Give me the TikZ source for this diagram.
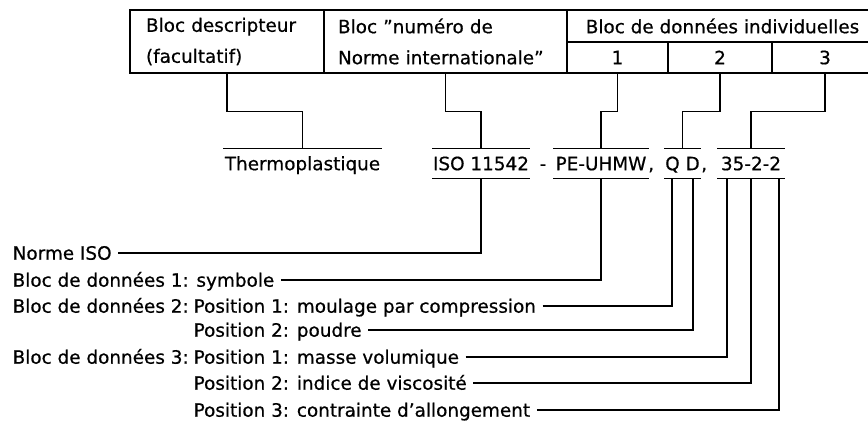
\documentclass[tikz,border=0pt]{standalone}
\usepackage{fontspec}
\setmainfont{DejaVu Sans}[FakeBold=0.6]
\usetikzlibrary{positioning}

\begin{document}
\begin{tikzpicture}[
    x=1pt, y=-1pt,
    line width=1.3pt,
    every node/.style={font=\fontsize{18.4}{31}\selectfont, inner sep=0pt},
    cell/.style={draw, minimum height=31pt},
    code/.style={minimum height=29pt, text height=13.4pt, text depth=0pt},
    lab/.style={anchor=west, inner xsep=6pt, text height=13.4pt, text depth=0pt}
]
    \useasboundingbox (0,0) rectangle (868,423);

    % table head
    \node[cell, minimum width=194pt, minimum height=63pt, text width=162pt, align=left] (desc) at (227,41.5) {Bloc descripteur\\(facultatif)};
    \node[cell, minimum width=243pt, minimum height=63pt, text width=215pt, align=left] (nie) at (445.5,41.5) {Bloc "numéro de\\Norme internationale"};
    \node[cell, minimum width=311pt, minimum height=32pt] (head) at (722.5,26) {Bloc de données individuelles};
    \node[cell, minimum width=101pt] (B1) at (617.5,57.5) {1};
    \node[cell, minimum width=104pt] (B2) at (720,57.5) {2};
    \node[cell, minimum width=106pt] (B3) at (825,57.5) {3};

    % designation
    \node[code, minimum width=157pt] (therm) at (302.5,163.5) {Thermoplastique};
    \node[code, minimum width=88pt] (iso) at (481,163.5) {ISO 11542};
    \node[code] (dash) at (543,163.5) {-};
    \node[code, minimum width=94pt] (pe) at (601,163.5) {PE-UHMW};
    \node[code, right=-1pt of pe] (cm1) {,};
    \node[code, minimum width=35pt] (qd) at (682.5,163.5) {Q D};
    \node[code, right=0pt of qd] (cm2) {,};
    \node[code, minimum width=66pt] (dens) at (751,163.5) {35-2-2};

    \foreach \x in {iso, pe, qd, dens}
        \draw (\x.north west) -- (\x.north east) (\x.south west) -- (\x.south east);
    \draw (therm.north west) -- (therm.north east);

    \draw (desc.south) -- ++(0,38) -| (therm.north);
    \draw (nie.south) -- ++(0,38) -| (iso.north);
    \draw (B1.south) -- ++(0,38) -| (pe.north);
    \draw (B2.south) -- ++(0,38) -| (qd.north);
    \draw (B3.south) -- ++(0,38) -| (dens.north);

    % explanations
    \node[lab] (liso) at (6,253) {Norme ISO};
    \node[lab] (lsym) at (6,280) {Bloc de données 1: symbole};
    \node[lab] (pre2) at (6,306) {Bloc de données 2:};
    \node[lab] (lmoul) at (187,306) {Position 1: moulage par compression};
    \node[lab] (lpoud) at (187,330) {Position 2: poudre};
    \node[lab] (pre3) at (6,357) {Bloc de données 3:};
    \node[lab] (lmasse) at (187,357) {Position 1: masse volumique};
    \node[lab] (lvisc) at (187,383) {Position 2: indice de viscosité};
    \node[lab] (lallong) at (187,410) {Position 3: contrainte d'allongement};

    \coordinate (Q) at ([xshift=-10.5pt]qd.south);
    \coordinate (D) at ([xshift=10.5pt]qd.south);
    \coordinate (P1) at ([xshift=-24pt]dens.south);
    \coordinate (P3) at ([xshift=28pt]dens.south);

    \draw (liso.east) -| (iso.south);
    \draw (lsym.east) -| (pe.south);
    \draw (lmoul.east) -| (Q);
    \draw (lpoud.east) -| (D);
    \draw (lmasse.east) -| (P1);
    \draw (lvisc.east) -| (dens.south);
    \draw (lallong.east) -| (P3);
\end{tikzpicture}
\end{document}
